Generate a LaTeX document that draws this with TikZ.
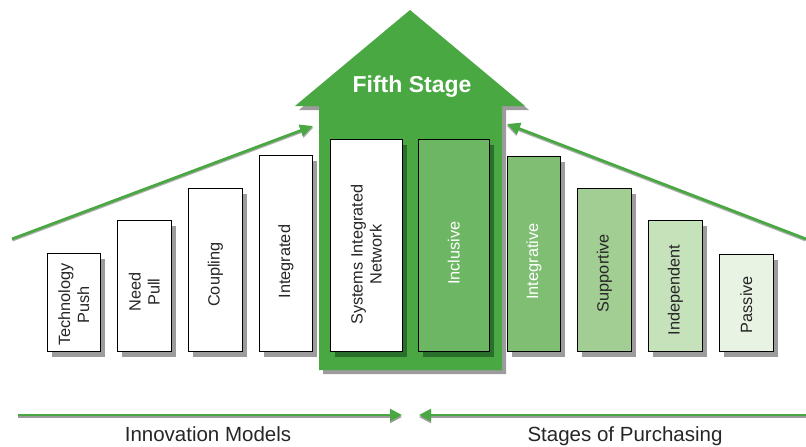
\documentclass[tikz,border=0pt]{standalone}
\usepackage{fontspec}
\setmainfont{Liberation Sans}
\usetikzlibrary{arrows.meta}

\definecolor{stagegreen}{HTML}{4AA843}
\definecolor{deepgreen}{HTML}{2A6E2B}
\definecolor{inclusivegreen}{HTML}{6DB663}
\definecolor{integrativegreen}{HTML}{80BF73}
\definecolor{supportivegreen}{HTML}{A3CE93}
\definecolor{independentgreen}{HTML}{C6E2BA}
\definecolor{passivegreen}{HTML}{E9F3E4}
\definecolor{shadowgray}{HTML}{9C9C9C}
\definecolor{textgray}{HTML}{262626}

% one stage column: name, left, right, top, fill, shadow, text colour, drop of the label, label
\newcommand{\stagecolumn}[9]{%
  \fill[#6] (#2+5,#4+5) rectangle (#3+5,357);
  \node[stagebox, fill=#5, minimum width=#3-#2, minimum height=352-#4] (#1) at (#2,352) {};
  \node[boxtext, text=#7] (#1-label) at ([yshift=-#8pt]#1.center) {#9};
}

\begin{document}
\begin{tikzpicture}[x=1pt, y=-1pt,
  stagebox/.style={draw=black, line width=0.8pt, inner sep=0pt, anchor=south west},
  boxtext/.style={rotate=90, align=center, inner sep=0pt,
    font=\fontsize{16.3}{19}\selectfont},
  trend/.style={stagegreen, line width=2.8pt, -{Triangle[length=13pt, width=12pt]}},
  trendshadow/.style={shadowgray!80, line width=2pt, -{Triangle[length=13pt, width=12pt]}},
  flow/.style={stagegreen, line width=2.5pt, -{Triangle[length=12pt, width=12pt]}},
  flowshadow/.style={shadowgray, line width=2pt, -{Triangle[length=12pt, width=12pt]}},
  caption/.style={anchor=base, text=textgray, font=\fontsize{20.5}{24}\selectfont}]

\useasboundingbox (0,0) rectangle (806,447);

% the large upward arrow of the fifth stage, with its shadow
\begin{scope}[shift={(4,4)}]
  \fill[shadowgray] (295,106) -- (410,10) -- (525,106) -- (502,106)
    -- (502,370) -- (319,370) -- (319,106) -- cycle;
\end{scope}
\fill[stagegreen] (295,106) -- (410,10) -- (525,106) -- (502,106)
  -- (502,370) -- (319,370) -- (319,106) -- cycle;
\node[anchor=base, text=white, font=\fontsize{23}{28}\selectfont\bfseries]
  (fifth) at (412,92) {Fifth Stage};

% innovation models
\stagecolumn{push}{47}{100}{254}{white}{shadowgray}{textgray}{2}{Technology\\Push}
\stagecolumn{pull}{117}{171}{221}{white}{shadowgray}{textgray}{6}{Need\\Pull}
\stagecolumn{coupling}{188}{242}{189}{white}{shadowgray}{textgray}{4.5}{Coupling}
\stagecolumn{integrated}{259}{312}{156}{white}{shadowgray}{textgray}{8}{Integrated}

% the fifth stage pair
\stagecolumn{network}{330}{402}{140}{white}{deepgreen}{textgray}{9}{Systems Integrated\\Network}
\stagecolumn{inclusive}{418}{489}{140}{inclusivegreen}{deepgreen}{white}{7.5}{Inclusive}

% stages of purchasing
\stagecolumn{integrative}{507}{560}{157}{integrativegreen}{shadowgray}{white}{7.5}{Integrative}
\stagecolumn{supportive}{577}{631}{189}{supportivegreen}{shadowgray}{textgray}{3}{Supportive}
\stagecolumn{independent}{648}{702}{221}{independentgreen}{shadowgray}{textgray}{4}{Independent}
\stagecolumn{passive}{719}{773}{255}{passivegreen}{shadowgray}{textgray}{1.5}{Passive}

% rising trends towards the fifth stage
\coordinate (lstart) at (12,239);
\coordinate (ltip) at (313,126);
\coordinate (rstart) at (806,239);
\coordinate (rtip) at (507,124);
\draw[trendshadow] ([shift={(0.5,1.5)}]lstart) -- ([shift={(0.5,1.5)}]ltip);
\draw[trend] (lstart) -- (ltip);
\draw[trendshadow] ([shift={(-0.5,1.5)}]rstart) -- ([shift={(-0.5,1.5)}]rtip);
\draw[trend] (rstart) -- (rtip);

% flows along the bottom
\coordinate (lflowstart) at (18,415);
\coordinate (lflowtip) at (402,415);
\coordinate (rflowstart) at (806,415);
\coordinate (rflowtip) at (419,415);
\draw[flowshadow] ([yshift=-2pt]lflowstart) -- ([yshift=-2pt]lflowtip);
\draw[flow] (lflowstart) -- (lflowtip);
\draw[flowshadow] ([yshift=-2pt]rflowstart) -- ([yshift=-2pt]rflowtip);
\draw[flow] (rflowstart) -- (rflowtip);

\node[caption] (innovation) at (208,441) {Innovation Models};
\node[caption] (purchasing) at (625,441) {Stages of Purchasing};

\end{tikzpicture}
\end{document}
